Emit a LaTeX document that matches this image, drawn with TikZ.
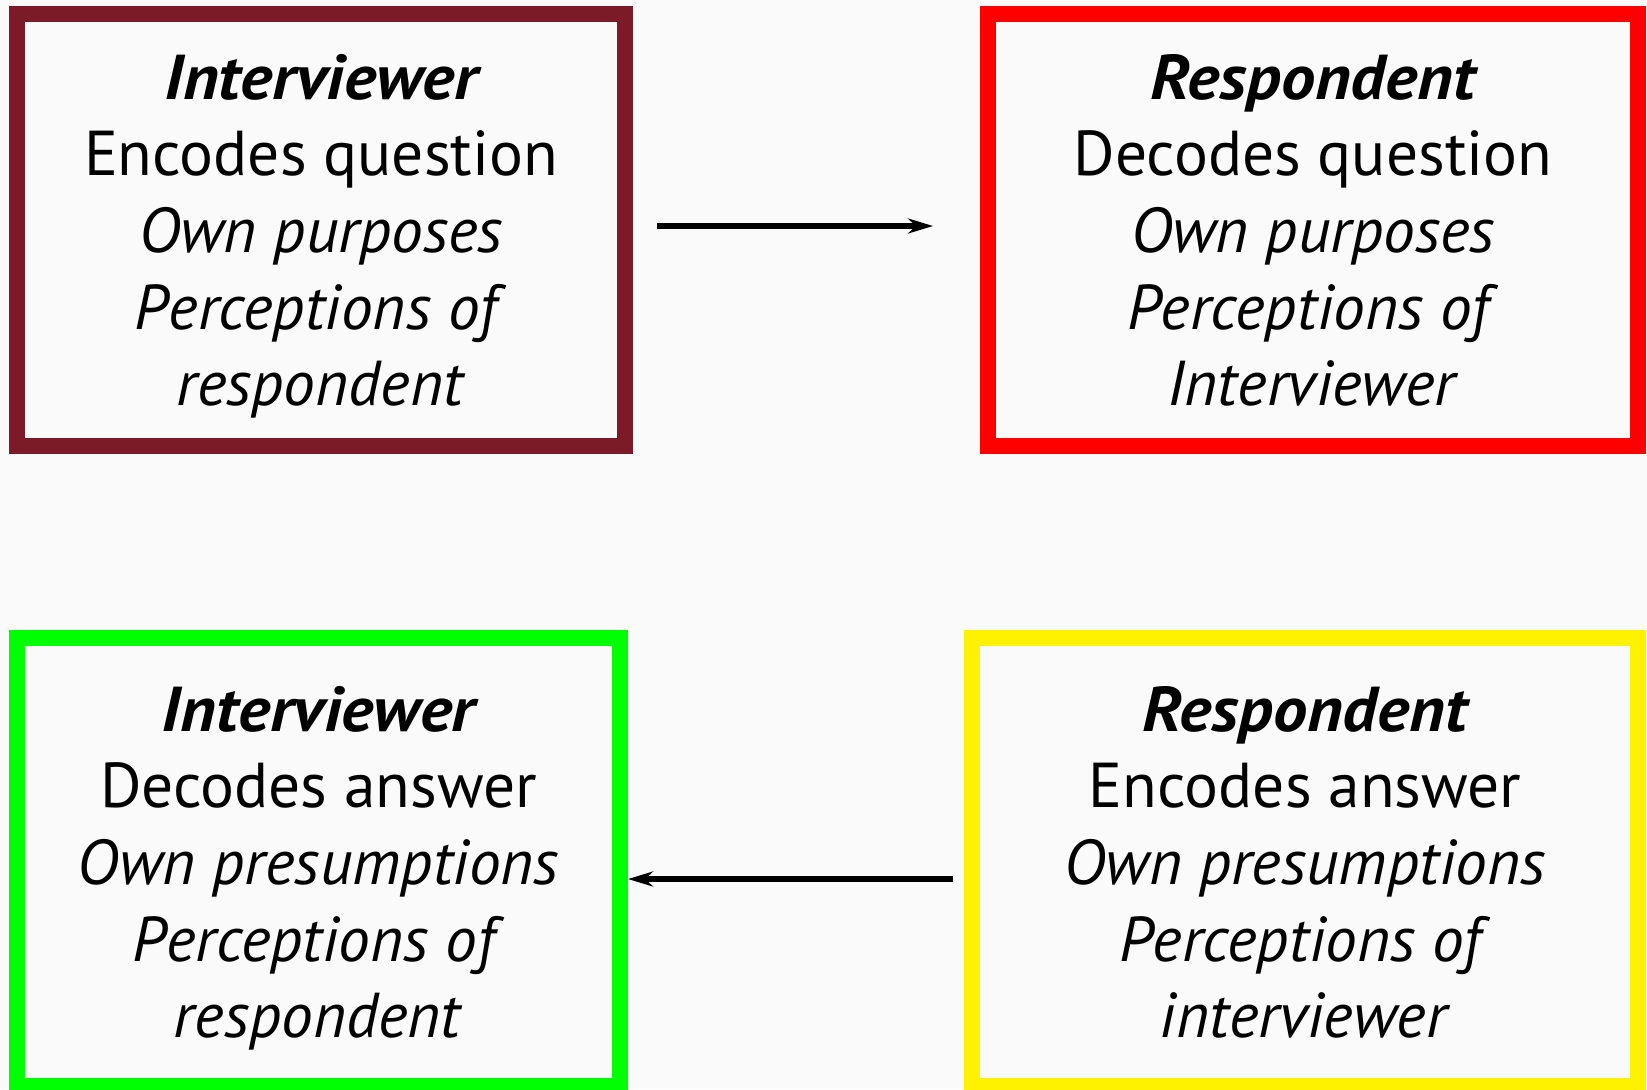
\documentclass[tikz,border=0pt]{standalone}
\usepackage{fontspec}
\setmainfont{PT Sans}
\usetikzlibrary{arrows.meta}
\definecolor{maroon}{HTML}{7A1B27}
\definecolor{paper}{HTML}{FAFAFA}
\newcommand{\stagehead}[1]{{\addfontfeature{FakeStretch=1.08}\bfseries\itshape #1}}
\tikzset{
  stage/.style={draw, line width=8pt, inner sep=0pt, align=center, text depth=0pt,
    font=\fontsize{31.7}{38.3}\selectfont},
  flow/.style={-{Stealth[length=12.5pt,width=7.5pt,inset=4pt]}, line width=2.7pt},
}

\begin{document}
\begin{tikzpicture}[x=0.5pt,y=-0.5pt]
  \fill[paper] (0,0) rectangle (1647,1089);
  \useasboundingbox (0,0) rectangle (1647,1089);
  % question
  \node[stage, draw=maroon, minimum width=304pt, minimum height=216pt] (iq) at (321,230)
    {\stagehead{Interviewer}\\ Encodes question\\ \textit{Own purposes}\\
     \textit{Perceptions of}\\ \textit{respondent}};
  \node[stage, draw=red, minimum width=325pt, minimum height=216pt] (rq) at (1313,230)
    {\stagehead{Respondent}\\ Decodes question\\ \textit{Own purposes}\\
     \textit{Perceptions of}\\ \textit{Interviewer}};
  % answer
  \node[stage, draw=green, minimum width=301.5pt, minimum height=224pt] (ia) at (318.5,862)
    {\stagehead{Interviewer}\\ Decodes answer\\ \textit{Own presumptions}\\
     \textit{Perceptions of}\\ \textit{respondent}};
  \node[stage, draw=yellow, minimum width=333pt, minimum height=224pt] (ra) at (1305,862)
    {\stagehead{Respondent}\\ Encodes answer\\ \textit{Own presumptions}\\
     \textit{Perceptions of}\\ \textit{interviewer}};
  \draw[flow, shorten <=12pt, shorten >=23.5pt] ([yshift=2pt]iq.east) -- ([yshift=2pt]rq.west);
  \draw[flow, shorten <=5.5pt] ([yshift=-8.5pt]ra.west) -- ([yshift=-8.5pt]ia.east);
\end{tikzpicture}
\end{document}
